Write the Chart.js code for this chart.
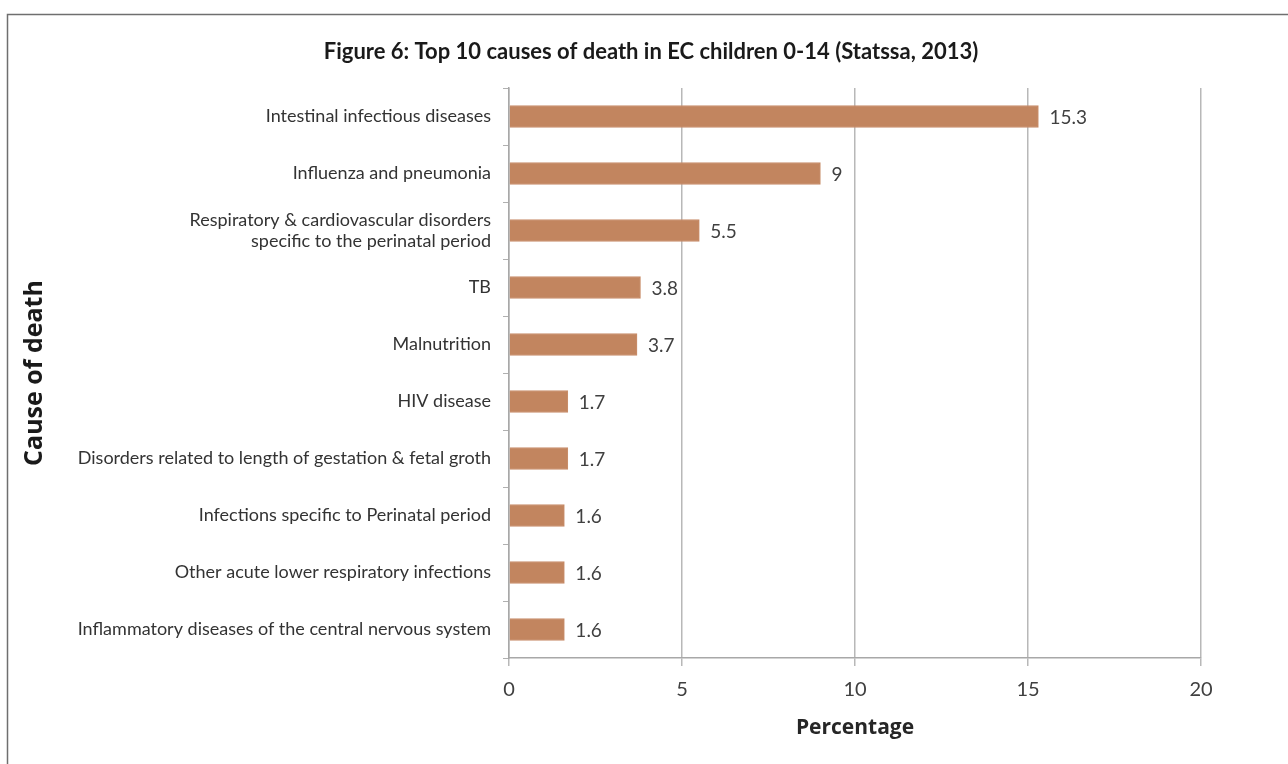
<!DOCTYPE html>
<html><head><meta charset="utf-8">
<script src="https://cdn.jsdelivr.net/npm/chart.js@4/dist/chart.umd.min.js"></script>
<style>html,body{margin:0;padding:0;background:#fff}#wrap{width:1288px;height:764px}</style>
</head><body><div id="wrap"><canvas id="c" width="1288" height="764"></canvas></div>
<script>
const categories = [
  "Intestinal infectious diseases",
  "Influenza and pneumonia",
  ["Respiratory & cardiovascular disorders", "specific to the perinatal period"],
  "TB",
  "Malnutrition",
  "HIV disease",
  "Disorders related to length of gestation & fetal groth",
  "Infections specific to Perinatal period",
  "Other acute lower respiratory infections",
  "Inflammatory diseases of the central nervous system"
];
const percentages = [15.3, 9, 5.5, 3.8, 3.7, 1.7, 1.7, 1.6, 1.6, 1.6];
const xTicks = [0, 5, 10, 15, 20];
const chartTitle = "Figure 6: Top 10 causes of death in EC children 0-14 (Statssa, 2013)";
const xTitle = "Percentage";
const yTitle = "Cause of death";

const FONT = "Lato, 'Open Sans', sans-serif";
const FONT2 = "'Open Sans', Lato, sans-serif";

const framePlugin = {
  id: 'frame',
  beforeDraw(chart) {
    const ctx = chart.ctx;
    ctx.save();
    ctx.fillStyle = '#fff';
    ctx.fillRect(0, 0, chart.width, chart.height);
    ctx.strokeStyle = '#6f6f6f';
    ctx.lineWidth = 1.5;
    ctx.strokeRect(7.5, 14.5, 1400, 1000);
    ctx.restore();
  },
  afterDraw(chart) {
    const ctx = chart.ctx;
    ctx.save();
    ctx.font = "bold 22px " + FONT;
    ctx.fillStyle = '#1a1a1a';
    ctx.textAlign = 'center';
    ctx.textBaseline = 'middle';
    ctx.fillText(chartTitle, 651, 52);
    ctx.restore();
  }
};

const valueLabels = {
  id: 'valueLabels',
  afterDatasetsDraw(chart) {
    const ctx = chart.ctx;
    const meta = chart.getDatasetMeta(0);
    ctx.save();
    ctx.font = "19px " + FONT;
    ctx.fillStyle = '#404040';
    ctx.textAlign = 'left';
    ctx.textBaseline = 'middle';
    meta.data.forEach((bar, i) => {
      ctx.fillText(String(percentages[i]), bar.x + 11, bar.y + 1);
    });
    ctx.restore();
  }
};

new Chart(document.getElementById('c'), {
  type: 'bar',
  data: {
    labels: categories,
    datasets: [{
      data: percentages,
      backgroundColor: '#c2855f',
      borderColor: '#c98f6c',
      borderWidth: 1,
      barThickness: 22
    }]
  },
  options: {
    indexAxis: 'y',
    responsive: false,
    animation: false,
    devicePixelRatio: 1,
    layout: { padding: { left: 0, right: 87, top: 88, bottom: 0 } },
    plugins: { legend: { display: false }, title: { display: false }, tooltip: { enabled: false } },
    scales: {
      x: {
        min: 0, max: 20,
        afterBuildTicks(scale) { scale.ticks = xTicks.map(v => ({ value: v })); },
        afterFit(scale) { scale.height = 106; },
        grid: { color: '#b8b8b8', lineWidth: 1.5, tickLength: 8, drawTicks: true },
        border: { color: '#a8a8a8', width: 1.5 },
        ticks: { font: { family: FONT, size: 20 }, color: '#404040', padding: 12 },
        title: { display: true, text: xTitle, font: { family: FONT2, size: 21, weight: 'bold' }, color: '#262626', padding: { top: 0, bottom: 23 } }
      },
      y: {
        afterFit(scale) { scale.width = 509; },
        grid: { offset: true, drawOnChartArea: false, tickLength: 6, color: '#b0b0b0', lineWidth: 1 },
        border: { color: '#a8a8a8', width: 1.5 },
        ticks: { font: { family: FONT, size: 18 }, color: '#333', padding: 12, autoSkip: false },
        title: { display: true, text: yTitle, font: { family: FONT2, size: 25, weight: 'bold' }, color: '#1a1a1a', padding: { top: 20, bottom: 0 } }
      }
    }
  },
  plugins: [framePlugin, valueLabels]
});
</script>
</body></html>
